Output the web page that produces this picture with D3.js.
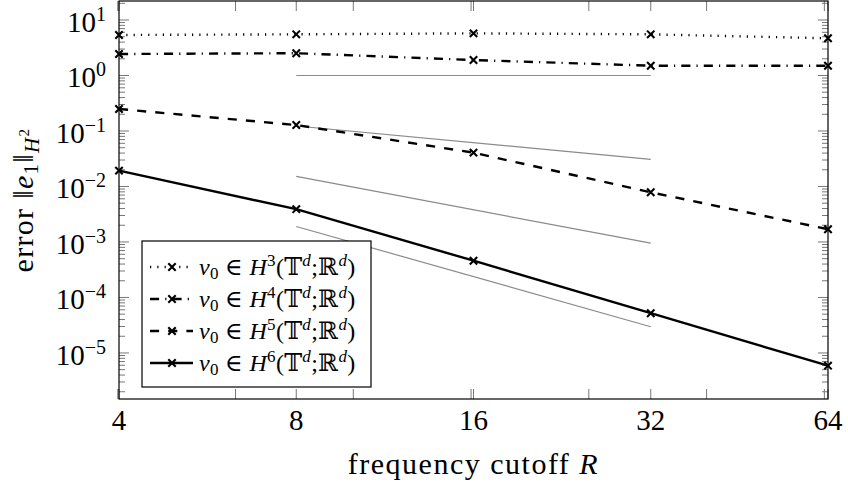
<!DOCTYPE html>
<html>
<head>
<meta charset="utf-8">
<script src="https://cdn.jsdelivr.net/npm/d3@7"></script>
<style>
  body { margin: 0; background: #fff; }
  text { font-family: "Liberation Serif", "DejaVu Serif", serif; fill: #000; }
</style>
</head>
<body>
<div id="wrapper"></div>
<script>
// 1. Data

const cutoffs = [4, 8, 16, 32, 64]
const errH3 = [5.37, 5.52, 5.75, 5.52, 4.68]
const errH4 = [2.44, 2.52, 1.9, 1.5, 1.5]
const errH5 = [0.249, 0.128, 0.0407, 0.00785, 0.0017]
const errH6 = [0.0193, 0.0039, 0.00046, 0.000052, 0.0000059]
const sobolevOrders = [3, 4, 5, 6]

// grey reference slopes between R = 8 and R = 32
const refCutoffs = [8, 32]
const refSlope0 = [1, 1]
const refSlope1 = [0.123, 0.0307]
const refSlope2 = [0.0152, 0.00095]
const refSlope3 = [0.0019, 0.0000297]

const xTickValues = [4, 8, 16, 32, 64]
const xMinorExponents = [0.6, 0.8, 1.0, 1.2, 1.4, 1.6, 1.8]
const yTickExponents = [1, 0, -1, -2, -3, -4, -5]
const yDomain = [1.48e-6, 22]

async function drawChart() {

  // 2. Dimensions

  let dimensions = {
    width: 848,
    height: 484,
    margin: { top: 1, right: 20, bottom: 85, left: 119 },
  }
  dimensions.boundedWidth = dimensions.width - dimensions.margin.left - dimensions.margin.right
  dimensions.boundedHeight = dimensions.height - dimensions.margin.top - dimensions.margin.bottom

  // 3. Canvas

  const wrapper = d3.select("#wrapper")
    .append("svg")
      .attr("width", dimensions.width)
      .attr("height", dimensions.height)

  const bounds = wrapper.append("g")
      .attr("transform", `translate(${dimensions.margin.left},${dimensions.margin.top})`)

  // 4. Scales

  const xScale = d3.scaleLog().base(2)
    .domain([4, 64])
    .range([0, dimensions.boundedWidth])

  const yScale = d3.scaleLog()
    .domain(yDomain)
    .range([dimensions.boundedHeight, 0])

  const W = dimensions.boundedWidth
  const H = dimensions.boundedHeight

  // 6. Peripherals (ticks drawn first so the lines sit on top)

  const ticks = bounds.append("g")
    .attr("stroke", "#777")
    .attr("stroke-width", 1)

  const xAllTicks = [...xTickValues, ...xMinorExponents.map(e => Math.pow(10, e))]
  xAllTicks.forEach(v => {
    const x = xScale(v)
    ticks.append("line").attr("x1", x).attr("x2", x).attr("y1", H).attr("y2", H - 10)
    ticks.append("line").attr("x1", x).attr("x2", x).attr("y1", 0).attr("y2", 10)
  })

  const yMinor = []
  for (let k = -6; k <= 1; k++) {
    for (let m = 2; m <= 9; m++) {
      const v = m * Math.pow(10, k)
      if (v > yDomain[0] && v < yDomain[1]) yMinor.push(v)
    }
  }
  yMinor.forEach(v => {
    const y = yScale(v)
    ticks.append("line").attr("x1", 0).attr("x2", 6).attr("y1", y).attr("y2", y)
    ticks.append("line").attr("x1", W).attr("x2", W - 6).attr("y1", y).attr("y2", y)
  })
  yTickExponents.forEach(e => {
    const y = yScale(Math.pow(10, e))
    ticks.append("line").attr("x1", 0).attr("x2", 10).attr("y1", y).attr("y2", y)
    ticks.append("line").attr("x1", W).attr("x2", W - 10).attr("y1", y).attr("y2", y)
  })

  // x tick labels
  bounds.append("g").selectAll("text")
    .data(xTickValues)
    .join("text")
      .attr("x", d => xScale(d))
      .attr("y", H + 31)
      .attr("text-anchor", "middle")
      .style("font-size", "29px")
      .text(d => d)

  // y tick labels: 10^e
  const yLabels = bounds.append("g").selectAll("text")
    .data(yTickExponents)
    .join("text")
      .attr("x", -13)
      .attr("y", d => yScale(Math.pow(10, d)) + 12)
      .attr("text-anchor", "end")
      .style("font-size", "29px")
  yLabels.append("tspan").text("10")
  yLabels.append("tspan")
      .attr("dy", -11)
      .style("font-size", "20px")
      .text(d => d < 0 ? "\u2212" + Math.abs(d) : d)

  // axis labels
  bounds.append("text")
      .attr("x", W / 2)
      .attr("y", H + 75)
      .attr("text-anchor", "middle")
      .style("font-size", "30px")
      .style("letter-spacing", "1.5px")
      .html('frequency cutoff <tspan font-style="italic">R</tspan>')

  const yTitle = bounds.append("text")
      .attr("transform", `translate(${-86},${H / 2}) rotate(-90)`)
      .attr("text-anchor", "middle")
      .style("font-size", "30px")
      .style("letter-spacing", "1.3px")
  yTitle.append("tspan").text("error \u2016")
  yTitle.append("tspan").attr("font-style", "italic").text("e")
  yTitle.append("tspan").attr("dy", 5).style("font-size", "21px").text("1")
  yTitle.append("tspan").attr("dy", -5).text("\u2016")
  yTitle.append("tspan").attr("dy", 6).attr("font-style", "italic").style("font-size", "21px").text("H")
  yTitle.append("tspan").attr("dy", -10).style("font-size", "15px").text("2")

  // 5. Data

  const line = d3.line()
    .x(d => xScale(d[0]))
    .y(d => yScale(d[1]))

  const refs = [refSlope0, refSlope1, refSlope2, refSlope3]
  bounds.append("g").selectAll("path")
    .data(refs)
    .join("path")
      .attr("d", d => line(d3.zip(refCutoffs, d)))
      .attr("fill", "none")
      .attr("stroke", "#8a8a8a")
      .attr("stroke-width", 1.2)

  const series = [
    { order: sobolevOrders[0], values: errH3, dash: "1.2,6.1" },
    { order: sobolevOrders[1], values: errH4, dash: "9.1,6.1,1.2,6.1" },
    { order: sobolevOrders[2], values: errH5, dash: "9.1,9.1" },
    { order: sobolevOrders[3], values: errH6, dash: null },
  ]

  const cross = (g, x, y) => {
    const s = 3.7
    g.append("path")
      .attr("d", `M${x - s},${y - s}L${x + s},${y + s}M${x - s},${y + s}L${x + s},${y - s}`)
      .attr("stroke", "#000")
      .attr("stroke-width", 2.1)
      .attr("fill", "none")
  }

  series.forEach(s => {
    const pts = d3.zip(cutoffs, s.values)
    bounds.append("path")
      .attr("d", line(pts))
      .attr("fill", "none")
      .attr("stroke", "#000")
      .attr("stroke-width", 2.4)
      .attr("stroke-dasharray", s.dash)
    const mg = bounds.append("g")
    pts.forEach(p => cross(mg, xScale(p[0]), yScale(p[1])))
  })

  // frame
  bounds.append("rect")
      .attr("width", W)
      .attr("height", H)
      .attr("fill", "none")
      .attr("stroke", "#000")
      .attr("stroke-width", 1.2)

  // legend
  const legend = bounds.append("g")
      .attr("transform", "translate(23,240)")
  legend.append("rect")
      .attr("width", 229)
      .attr("height", 146)
      .attr("fill", "#fff")
      .attr("stroke", "#000")
      .attr("stroke-width", 1.2)

  series.forEach((s, i) => {
    const y = 26 + i * 32
    const row = legend.append("g")
    row.append("line")
      .attr("x1", 8).attr("x2", 51)
      .attr("y1", y).attr("y2", y)
      .attr("stroke", "#000")
      .attr("stroke-width", 2.4)
      .attr("stroke-dasharray", s.dash)
    cross(row, 30, y)
    const t = row.append("text")
      .attr("x", 57)
      .attr("y", y + 8)
      .style("font-size", "24px")
      .style("letter-spacing", "0.3px")
    t.append("tspan").attr("font-style", "italic").text("v")
    t.append("tspan").attr("dy", 4).style("font-size", "17px").text("0")
    t.append("tspan").attr("dy", -4).text(" \u2208 ")
    t.append("tspan").attr("font-style", "italic").text("H")
    t.append("tspan").attr("dy", -9).style("font-size", "17px").text(s.order)
    t.append("tspan").attr("dy", 9).text("(\uD835\uDD4B")
    t.append("tspan").attr("dy", -9).attr("font-style", "italic").style("font-size", "17px").text("d")
    t.append("tspan").attr("dy", 9).text(";\u211D")
    t.append("tspan").attr("dy", -9).attr("font-style", "italic").style("font-size", "17px").text("d")
    t.append("tspan").attr("dy", 9).text(")")
  })
}
drawChart()
</script>
</body>
</html>
